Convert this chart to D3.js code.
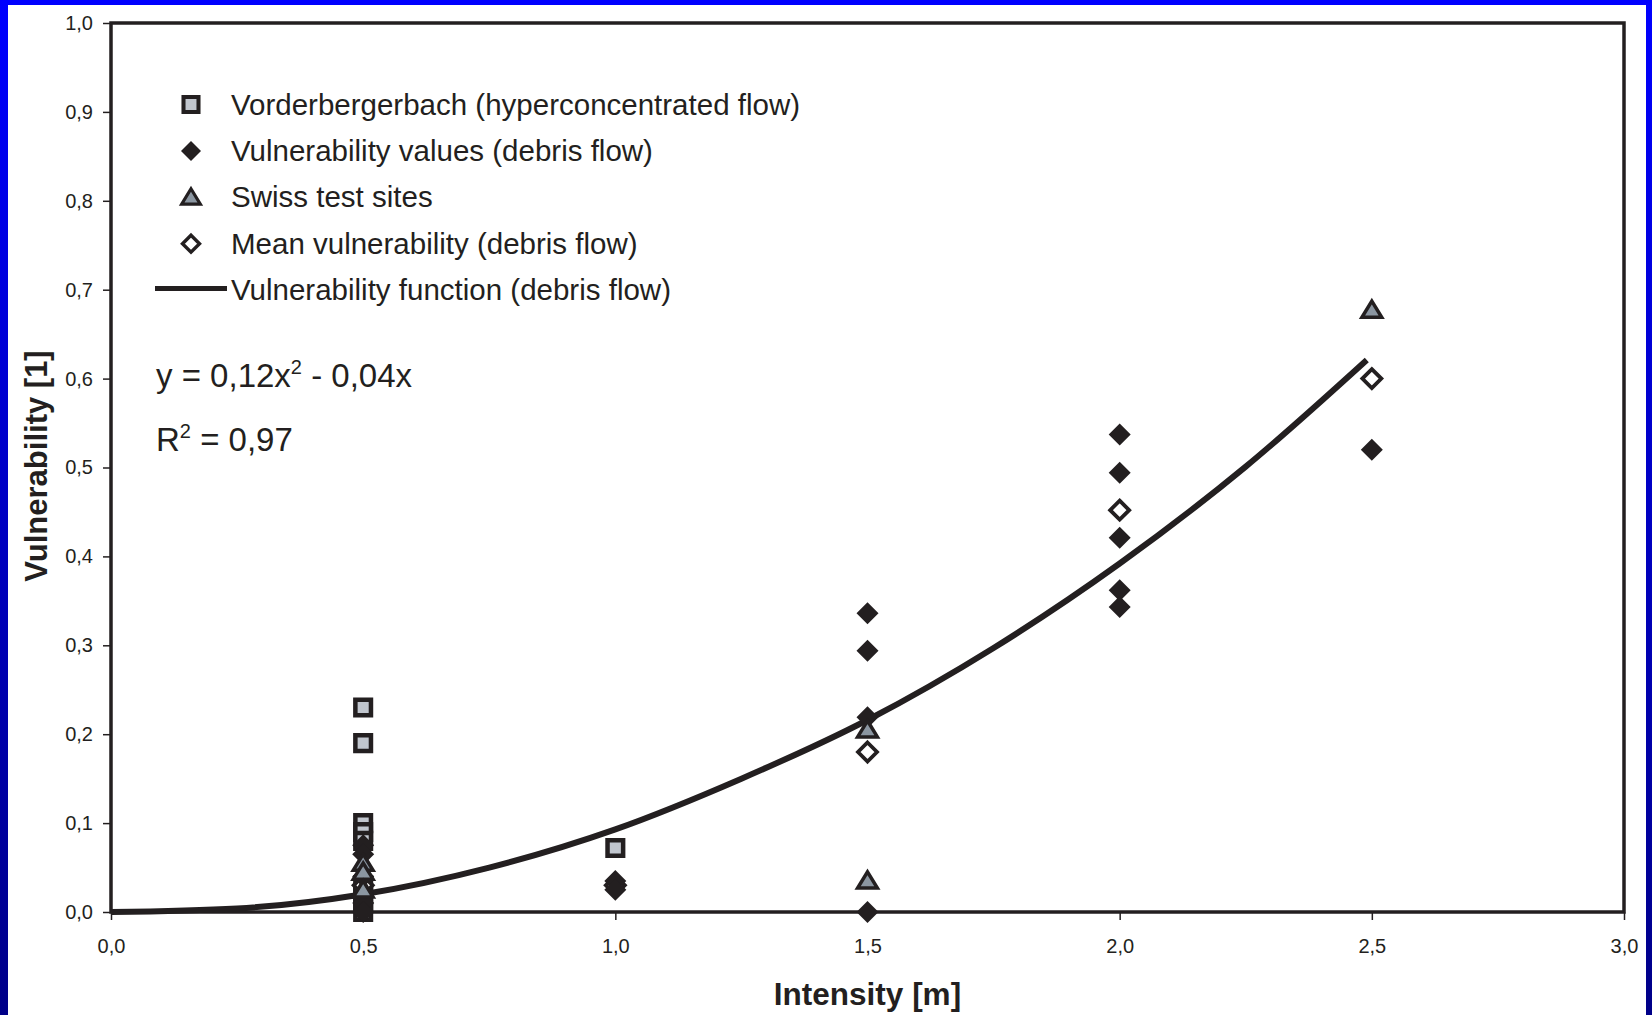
<!DOCTYPE html>
<html>
<head>
<meta charset="utf-8">
<script src="https://cdn.jsdelivr.net/npm/d3@7"></script>
<style>
  body { margin: 0; padding: 0; background: #fff; }
  svg { display: block; }
  text { font-family: "Liberation Sans", Arial, Helvetica, sans-serif; fill: #231f20; }
</style>
</head>
<body>
<div id="chart"></div>
<script>
// values, [intensity m, vulnerability]
var vorderbergerbach = [[0.5, 0.23], [0.5, 0.19], [0.5, 0.10], [0.5, 0.09], [0.5, 0.08],
    [0.5, 0.03], [0.5, 0.02], [0.5, 0.01], [0.5, 0.0], [1.0, 0.072]];
var debrisValues = [[0.5, 0.075], [0.5, 0.065], [0.5, 0.04], [0.5, 0.02], [0.5, 0.01], [0.5, 0.0],
    [1.0, 0.035], [1.0, 0.025],
    [1.5, 0.336], [1.5, 0.294], [1.5, 0.219], [1.5, 0.0],
    [2.0, 0.537], [2.0, 0.494], [2.0, 0.421], [2.0, 0.362], [2.0, 0.343],
    [2.5, 0.52]];
var swissSites = [[0.5, 0.055], [0.5, 0.045], [0.5, 0.025], [1.5, 0.205], [1.5, 0.035], [2.5, 0.677]];
var meanValues = [[0.5, 0.03], [1.0, 0.03], [1.5, 0.18], [2.0, 0.452], [2.5, 0.60]];
// fitted vulnerability function
var functionCurve = [[0, 0], [0.25, 0.004], [0.5, 0.02], [0.75, 0.05], [1.0, 0.093], [1.25, 0.15],
    [1.5, 0.216], [1.75, 0.297], [2.0, 0.392], [2.25, 0.501], [2.49, 0.621]];

var xTicks = [0, 0.5, 1.0, 1.5, 2.0, 2.5, 3.0];
var yTicks = [0, 0.1, 0.2, 0.3, 0.4, 0.5, 0.6, 0.7, 0.8, 0.9, 1.0];
var legendLabels = ["Vorderbergerbach (hyperconcentrated flow)", "Vulnerability values (debris flow)",
    "Swiss test sites", "Mean vulnerability (debris flow)", "Vulnerability function (debris flow)"];

var W = 1652, H = 1015;
var plotLeft = 111, plotRight = 1624, plotTop = 23, plotBottom = 912;
var dark = "#231f20";

var fmt = d3.formatLocale({decimal: ",", thousands: ".", grouping: [3], currency: ["", ""]}).format(".1f");

var svg = d3.select("#chart").append("svg")
    .attr("width", W)
    .attr("height", H);

// blue frame with a vertical fade
var grad = svg.append("defs").append("linearGradient")
    .attr("id", "frameGrad")
    .attr("x1", 0).attr("y1", 0).attr("x2", 0).attr("y2", 1);
grad.append("stop").attr("offset", "0%").attr("stop-color", "#0000ff");
grad.append("stop").attr("offset", "100%").attr("stop-color", "#000088");

svg.append("rect").attr("width", W).attr("height", H).attr("fill", "url(#frameGrad)");
svg.append("rect").attr("x", 8).attr("y", 5).attr("width", 1646 - 8).attr("height", H - 5).attr("fill", "#fff");

var x = d3.scaleLinear().domain([0, 3]).range([plotLeft, plotRight]);
var y = d3.scaleLinear().domain([0, 1]).range([plotBottom, plotTop]);

// axes
var yAxis = svg.append("g")
    .attr("transform", "translate(" + plotLeft + ",0)")
    .call(d3.axisLeft(y).tickValues(yTicks).tickFormat(fmt).tickSize(8).tickPadding(10));
var xAxis = svg.append("g")
    .attr("transform", "translate(0," + plotBottom + ")")
    .call(d3.axisBottom(x).tickValues(xTicks).tickFormat(fmt).tickSize(8).tickPadding(19));

[xAxis, yAxis].forEach(function(g){
    g.select(".domain").remove();
    g.selectAll(".tick line").attr("stroke", dark).attr("stroke-width", 1.5);
    g.selectAll(".tick text")
        .attr("font-size", "20px")
        .attr("font-family", "Liberation Sans, Arial, sans-serif")
        .attr("fill", "#333");
});

// plot frame
svg.append("rect")
    .attr("x", plotLeft).attr("y", plotTop)
    .attr("width", plotRight - plotLeft).attr("height", plotBottom - plotTop)
    .attr("fill", "none")
    .attr("stroke", dark)
    .attr("stroke-width", 3.5);

// axis titles
svg.append("text")
    .attr("x", (plotLeft + plotRight) / 2)
    .attr("y", 1005)
    .attr("text-anchor", "middle")
    .attr("font-size", "31.5px")
    .attr("font-weight", "bold")
    .text("Intensity [m]");

svg.append("text")
    .attr("transform", "translate(47,466) rotate(-90)")
    .attr("text-anchor", "middle")
    .attr("font-size", "31px")
    .attr("font-weight", "bold")
    .text("Vulnerability [1]");

// marker shapes
function squarePath(cx, cy, s){
    return "M" + (cx - s) + "," + (cy - s) + "H" + (cx + s) + "V" + (cy + s) + "H" + (cx - s) + "Z";
}
function diamondPath(cx, cy, s){
    return "M" + cx + "," + (cy - s) + "L" + (cx + s) + "," + cy + "L" + cx + "," + (cy + s) + "L" + (cx - s) + "," + cy + "Z";
}
function trianglePath(cx, cy, s){
    return "M" + cx + "," + (cy - s) + "L" + (cx + s * 1.1) + "," + (cy + s * 0.8) + "L" + (cx - s * 1.1) + "," + (cy + s * 0.8) + "Z";
}

var markers = {
    square:   {shape: squarePath,   size: 7.8, fill: "#c1c6ce", stroke: dark, sw: 4.5},
    diamond:  {shape: diamondPath,  size: 11,  fill: dark,      stroke: "none", sw: 0},
    triangle: {shape: trianglePath, size: 9,   fill: "#8b96a1", stroke: dark, sw: 3.5},
    open:     {shape: diamondPath,  size: 9.5, fill: "#fff",    stroke: dark, sw: 3.8}
};

// function curve
var line = d3.line()
    .x(function(d){ return x(d[0]); })
    .y(function(d){ return y(d[1]); })
    .curve(d3.curveMonotoneX);

svg.append("path")
    .datum(functionCurve)
    .attr("d", line)
    .attr("fill", "none")
    .attr("stroke", dark)
    .attr("stroke-width", 6);

function drawSeries(data, m){
    svg.append("g").selectAll("path")
        .data(data)
        .enter()
        .append("path")
        .attr("d", function(d){ return m.shape(x(d[0]), y(d[1]), m.size); })
        .attr("fill", m.fill)
        .attr("stroke", m.stroke)
        .attr("stroke-width", m.sw)
        .attr("stroke-linejoin", "miter");
}

drawSeries(vorderbergerbach, markers.square);
drawSeries(meanValues, markers.open);
drawSeries(debrisValues, markers.diamond);
drawSeries(swissSites, markers.triangle);

// legend
var legendKeys = ["square", "diamond", "triangle", "open", "line"];
var legendSmall = {square: 7.5, diamond: 10, triangle: 8.5, open: 8.5};
var rowH = 46.4, firstRow = 104.5;

var lg = svg.append("g");
legendKeys.forEach(function(k, i){
    var cy = firstRow + i * rowH;
    if (k == "line"){
        lg.append("line")
            .attr("x1", 155).attr("x2", 227)
            .attr("y1", cy - 1.5).attr("y2", cy - 1.5)
            .attr("stroke", dark)
            .attr("stroke-width", 5);
    } else {
        var m = markers[k];
        lg.append("path")
            .attr("d", m.shape(191, cy, legendSmall[k]))
            .attr("fill", m.fill)
            .attr("stroke", m.stroke)
            .attr("stroke-width", m.sw * 0.9);
    }
    lg.append("text")
        .attr("x", 231)
        .attr("y", cy + 10)
        .attr("font-size", "29.5px")
        .text(legendLabels[i]);
});

// equation and fit
var eq = svg.append("text")
    .attr("x", 156)
    .attr("y", 387)
    .attr("font-size", "33px");
eq.append("tspan").text("y = 0,12x");
eq.append("tspan").attr("font-size", "20px").attr("dy", -13).text("2");
eq.append("tspan").attr("dy", 13).text(" - 0,04x");

var r2 = svg.append("text")
    .attr("x", 156)
    .attr("y", 451)
    .attr("font-size", "33px");
r2.append("tspan").text("R");
r2.append("tspan").attr("font-size", "20px").attr("dy", -13).text("2");
r2.append("tspan").attr("dy", 13).text(" = 0,97");
</script>
</body>
</html>
